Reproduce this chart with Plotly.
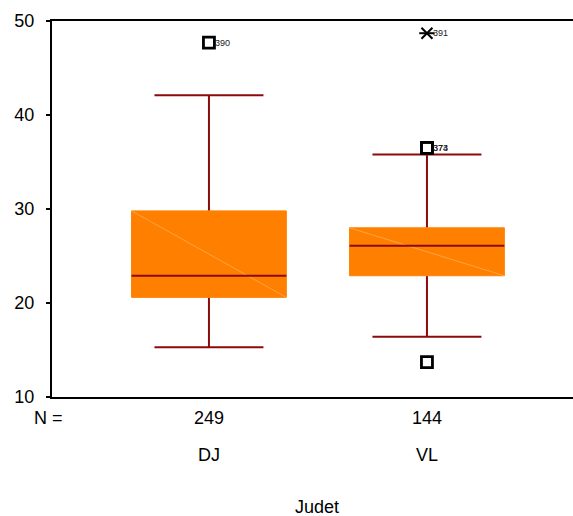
import plotly.graph_objects as go

# Box plot summary per county group
categories = ["DJ", "VL"]
counts = [249, 144]
q1 = [20.6, 22.9]
median = [22.9, 26.1]
q3 = [29.8, 28.0]
lower_whisker = [15.3, 16.4]
upper_whisker = [42.1, 35.8]

# Outliers (circles) and extremes (stars) with case labels
outlier_group = ["DJ", "VL", "VL", "VL"]
outlier_value = [47.7, 36.5, 36.5, 13.7]
outlier_label = ["390", "374", "373", ""]
extreme_group = ["VL"]
extreme_value = [48.7]
extreme_label = ["391"]

y_ticks = [10, 20, 30, 40, 50]

BOX_FILL = "#FF8000"
DARK_RED = "#8B0A0A"
BOX_HALF = 0.355
CAP_HALF = 0.25
FONT = "Liberation Sans, Arial, sans-serif"
FS = 18

pos = {c: i + 1 for i, c in enumerate(categories)}

fig = go.Figure()

for i, c in enumerate(categories):
    x = pos[c]
    # whiskers
    fig.add_trace(go.Scatter(
        x=[x, x, None, x, x], y=[q3[i], upper_whisker[i], None, q1[i], lower_whisker[i]],
        mode="lines", line=dict(color=DARK_RED, width=2), hoverinfo="skip", showlegend=False))
    # caps
    fig.add_trace(go.Scatter(
        x=[x - CAP_HALF, x + CAP_HALF, None, x - CAP_HALF, x + CAP_HALF],
        y=[upper_whisker[i], upper_whisker[i], None, lower_whisker[i], lower_whisker[i]],
        mode="lines", line=dict(color=DARK_RED, width=2), hoverinfo="skip", showlegend=False))
    # box body
    fig.add_trace(go.Scatter(
        x=[x - BOX_HALF, x + BOX_HALF, x + BOX_HALF, x - BOX_HALF, x - BOX_HALF],
        y=[q1[i], q1[i], q3[i], q3[i], q1[i]],
        mode="lines", fill="toself", fillcolor=BOX_FILL,
        line=dict(color=BOX_FILL, width=1), hoverinfo="skip", showlegend=False))
    # faint diagonal shading line
    fig.add_trace(go.Scatter(
        x=[x - BOX_HALF, x + BOX_HALF], y=[q3[i], q1[i]],
        mode="lines", line=dict(color="#FFAA55", width=0.8),
        hoverinfo="skip", showlegend=False))
    # median
    fig.add_trace(go.Scatter(
        x=[x - BOX_HALF, x + BOX_HALF], y=[median[i], median[i]],
        mode="lines", line=dict(color=DARK_RED, width=2), hoverinfo="skip", showlegend=False))

# outliers
fig.add_trace(go.Scatter(
    x=[pos[g] for g in outlier_group], y=outlier_value, mode="markers",
    marker=dict(symbol="square-open", size=11, color="black", line=dict(width=2.8, color="black")),
    hoverinfo="skip", showlegend=False))

# extremes: drawn as a six-armed star
for sym in ["x-thin-open", "line-ew-open"]:
    fig.add_trace(go.Scatter(
        x=[pos[g] for g in extreme_group], y=extreme_value, mode="markers",
        marker=dict(symbol=sym, size=11, color="black", line=dict(width=2, color="black")),
        hoverinfo="skip", showlegend=False))

annotations = []
for g, v, t in list(zip(outlier_group, outlier_value, outlier_label)) + \
        list(zip(extreme_group, extreme_value, extreme_label)):
    if t:
        annotations.append(dict(x=pos[g], y=v, xref="x", yref="y", text=t, showarrow=False,
                                xanchor="left", yanchor="middle", xshift=4,
                                font=dict(size=9, color="#222", family=FONT)))

# plot area spans x = 52..573 and y = 21..397 px of the 573x516 page
PLOT_W = 573 - 52
PLOT_H = 516 - 21 - 119


def paper_x(px):
    return (px - 52) / PLOT_W


def paper_y(px):
    return (397 - px) / PLOT_H


annotations.append(dict(x=paper_x(48), y=paper_y(418), xref="paper", yref="paper", text="N =",
                        showarrow=False, xanchor="center", yanchor="middle",
                        font=dict(size=FS, color="black", family=FONT)))
for c, n in zip(categories, counts):
    annotations.append(dict(x=pos[c], y=paper_y(418), xref="x", yref="paper", text=str(n),
                            showarrow=False, yanchor="middle",
                            font=dict(size=FS, color="black", family=FONT)))
    annotations.append(dict(x=pos[c], y=paper_y(455), xref="x", yref="paper", text=c,
                            showarrow=False, yanchor="middle",
                            font=dict(size=FS, color="black", family=FONT)))
annotations.append(dict(x=paper_x(317), y=paper_y(507), xref="paper", yref="paper", text="Judet",
                        showarrow=False, xanchor="center", yanchor="middle",
                        font=dict(size=FS, color="black", family=FONT)))

fig.update_layout(
    width=573, height=516,
    margin=dict(l=52, r=0, t=21, b=119),
    paper_bgcolor="white", plot_bgcolor="white",
    annotations=annotations,
    font=dict(family=FONT, size=FS, color="black"),
    xaxis=dict(range=[0.28, 2.67], showgrid=False, zeroline=False, showticklabels=False,
               ticks="", showline=True, linecolor="black", linewidth=2, mirror=True),
    yaxis=dict(range=[10, 50], tickvals=y_ticks, showgrid=False, zeroline=False,
               ticks="outside", ticklen=4, tickwidth=2, tickcolor="black",
               ticklabelstandoff=8,
               showline=True, linecolor="black", linewidth=2, mirror=False,
               tickfont=dict(size=FS, family=FONT, color="black")),
)

fig.write_html("out.html")
